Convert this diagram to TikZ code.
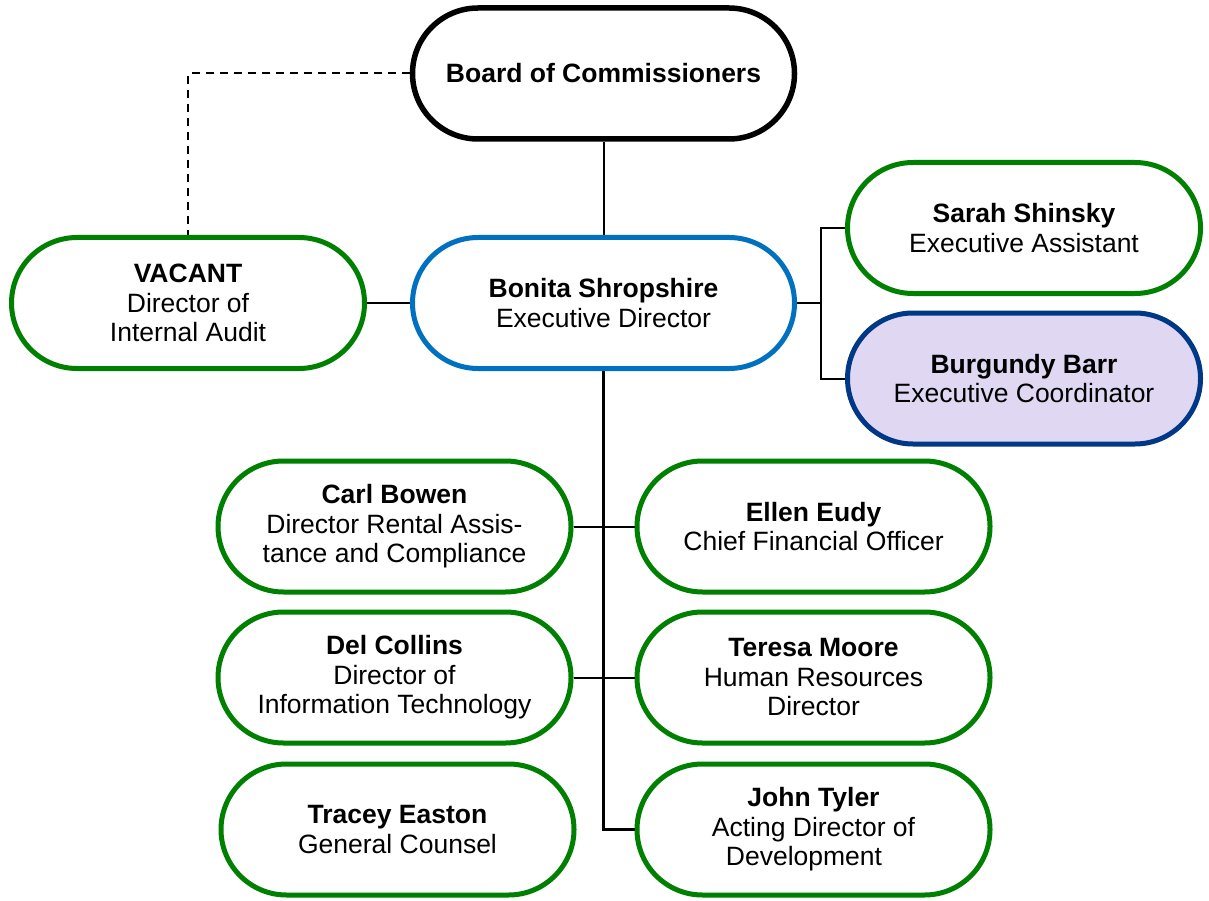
\documentclass[tikz,border=0pt]{standalone}
\usepackage{fontspec}
\setmainfont{Liberation Sans}
\usetikzlibrary{shapes.misc}
\definecolor{boxgreen}{RGB}{0,128,0}
\definecolor{boxblue}{RGB}{0,112,192}
\definecolor{boxnavy}{RGB}{0,56,136}
\definecolor{boxlav}{RGB}{224,215,242}
\tikzset{
  pill/.style={rounded rectangle, draw=boxgreen, line width=5pt, fill=white,
    minimum width=353pt, minimum height=131pt, inner sep=0pt, align=center,
    font=\fontsize{26.5}{29.5}\selectfont},
  wide/.style={minimum width=382pt},
  link/.style={line width=2pt, black},
  trunk/.style={line width=2.5pt, black}
}
\begin{document}
\begin{tikzpicture}[x=1pt,y=-1pt]
\useasboundingbox (0,0) rectangle (1209,901);
\node[pill, wide, draw=black, line width=5.5pt] (board) at (603.5,73.5) {\bfseries Board of Commissioners};
\node[pill, wide, draw=boxblue] (ed) at (603.5,303) {{\bfseries Bonita Shropshire}\\Executive Director};
\node[pill] (vac) at (188,303) {{\bfseries VACANT}\\Director of\\Internal Audit};
\node[pill] (sarah) at (1024,228) {{\bfseries Sarah Shinsky}\\Executive Assistant};
\node[pill, draw=boxnavy, fill=boxlav] (barr) at (1024,378.5) {{\bfseries Burgundy Barr}\\Executive Coordinator};
\node[pill] (carl) at (394.5,526.5) {{\bfseries Carl Bowen}\\Director Rental Assis-\\tance and Compliance};
\node[pill] (ellen) at (813.5,526.5) {{\bfseries Ellen Eudy}\\Chief Financial Officer};
\node[pill] (del) at (394.5,677.5) {{\bfseries Del Collins}\\Director of\\Information Technology};
\node[pill] (teresa) at (813.5,677.5) {{\bfseries Teresa Moore}\\Human Resources\\Director};
\node[pill] (tracey) at (397.5,829.5) {{\bfseries Tracey Easton}\\General Counsel};
\node[pill] (john) at (813.5,829.5) {{\bfseries John Tyler}\\Acting Director of\hspace*{21pt}\\Development\hspace*{19pt}};
\coordinate (dashcorner) at (188,73.5);
\coordinate (rbranch) at (820.5,303);
\draw[link] (board.south) -- (ed.north);
\draw[link, dash pattern=on 8pt off 6pt] (board.west) -- (dashcorner) -- (vac.north);
\draw[link] (vac.east) -- (ed.west);
\draw[link] (ed.east) -- (rbranch);
\draw[link] (sarah.west) -| (rbranch) |- (barr.west);
\draw[trunk] (ed.south) |- (john.west);
\draw[link] (carl.east) -- (ellen.west);
\draw[link] (del.east) -- (teresa.west);
\end{tikzpicture}
\end{document}
